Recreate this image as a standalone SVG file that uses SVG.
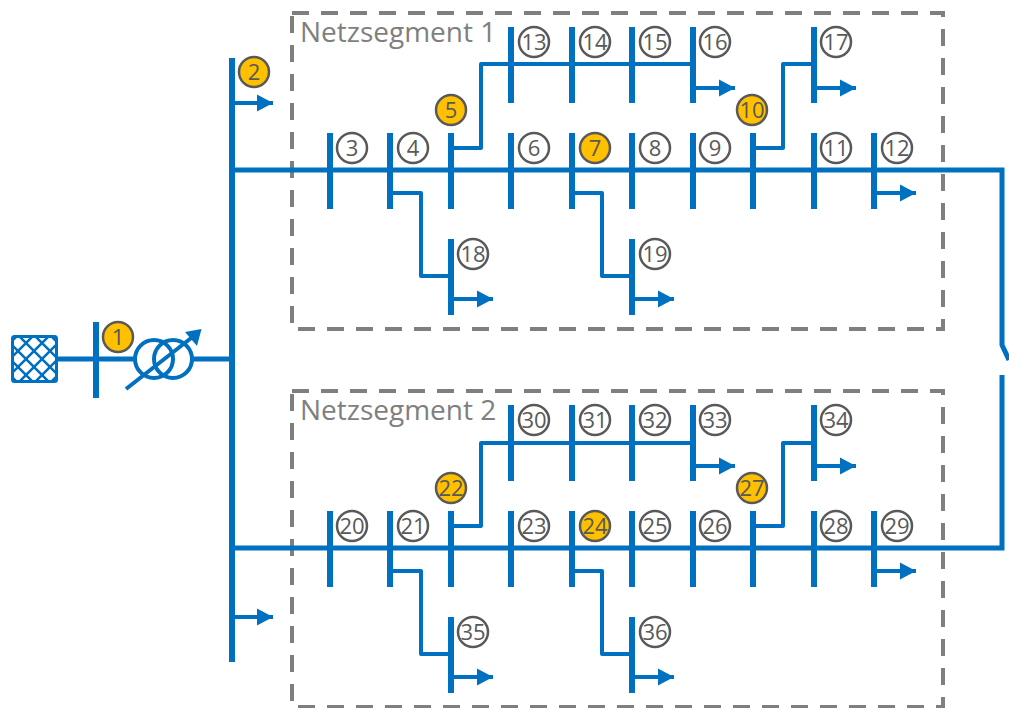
<svg xmlns="http://www.w3.org/2000/svg" width="1009" height="708" viewBox="0 0 1009 708">
<style>
.bar{stroke:#0070c0;stroke-width:6;fill:none}
.ln{stroke:#0070c0;stroke-width:4;fill:none;stroke-linejoin:round}
.main{stroke:#0070c0;stroke-width:5;fill:none}
.load{stroke:#0070c0;stroke-width:4;fill:none;marker-end:url(#ah)}
.seg{fill:none;stroke:#7f7f7f;stroke-width:4;stroke-dasharray:17 12}
.segt{font:28px "Open Sans",sans-serif;fill:#7f7f7f}
.b circle{stroke:#595959;stroke-width:2.5;fill:#fff}
.b.o circle{fill:#ffc000}
.b text{font:22px "Open Sans",sans-serif;fill:#595959;text-anchor:middle}
</style>
<defs>
<marker id="ah" markerUnits="userSpaceOnUse" markerWidth="18" markerHeight="20" refX="16" refY="10" orient="auto"><path d="M0 1.5L16 10L0 18.5Z" fill="#0070c0"/></marker>
<clipPath id="gc"><rect x="11" y="335" width="47" height="48" rx="2"/></clipPath>
</defs>
<g id="segment1"><rect class="seg" x="292" y="13" width="651" height="316"/><text class="segt" x="300" y="42">Netzsegment 1</text></g>
<g id="segment2"><rect class="seg" x="292" y="391" width="651" height="316"/><text class="segt" x="300" y="420">Netzsegment 2</text></g>
<g id="connectors">
<path class="main" d="M56 359H135M192 359H232"/>
<path class="main" d="M232 170H1002V345L1009 360M1002 375V548H232"/>
<path class="ln" d="M451 148H481V64H693M753 148H783V64H814M390 193H421V276H451M572 193H602V276H632"/>
<path class="ln" d="M451 526H481V443H693M753 526H783V443H814M390 571H421V654H451M572 571H602V654H632"/>
<path class="load" d="M232 103H273"/><path class="load" d="M232 617H273"/>
<path class="load" d="M693 88H735"/><path class="load" d="M814 88H856"/><path class="load" d="M874 193H916"/><path class="load" d="M451 299H493"/><path class="load" d="M632 299H674"/>
<path class="load" d="M693 466H735"/><path class="load" d="M814 466H856"/><path class="load" d="M874 571H916"/><path class="load" d="M451 677H493"/><path class="load" d="M632 677H674"/>
</g>
<g id="grid"><rect x="12.5" y="336.5" width="44" height="45" rx="2" fill="#fff" stroke="#0070c0" stroke-width="3"/><path clip-path="url(#gc)" stroke="#0070c0" stroke-width="2.5" fill="none" d="M0 353L70 283M0 369L70 299M0 385L70 315M0 401L70 331M0 417L70 347M0 433L70 363M0 365L70 435M0 349L70 419M0 333L70 403M0 317L70 387M0 301L70 371M0 285L70 355"/></g>
<g id="transformer"><circle class="ln" cx="154" cy="359" r="19"/><circle class="ln" cx="173" cy="359" r="19"/><path class="ln" d="M126 389L195 335"/><path d="M201.5 329L185 332L197 346Z" fill="#0070c0"/></g>
<g id="n1" class="b o"><path class="bar" d="M96 322V398"/><circle cx="118" cy="337" r="15"/><text x="118" y="345">1</text></g>
<g id="n2" class="b o"><path class="bar" d="M232 58V662"/><circle cx="254" cy="72" r="15"/><text x="254" y="80">2</text></g>
<g id="n3" class="b"><path class="bar" d="M330 133V209"/><circle cx="352" cy="148" r="15"/><text x="352" y="156">3</text></g>
<g id="n4" class="b"><path class="bar" d="M390 133V209"/><circle cx="413" cy="148" r="15"/><text x="413" y="156">4</text></g>
<g id="n5" class="b o"><path class="bar" d="M451 133V209"/><circle cx="451" cy="110" r="15"/><text x="451" y="118">5</text></g>
<g id="n6" class="b"><path class="bar" d="M511 133V209"/><circle cx="534" cy="148" r="15"/><text x="534" y="156">6</text></g>
<g id="n7" class="b o"><path class="bar" d="M572 133V209"/><circle cx="595" cy="148" r="15"/><text x="595" y="156">7</text></g>
<g id="n8" class="b"><path class="bar" d="M632 133V209"/><circle cx="655" cy="148" r="15"/><text x="655" y="156">8</text></g>
<g id="n9" class="b"><path class="bar" d="M693 133V209"/><circle cx="715" cy="148" r="15"/><text x="715" y="156">9</text></g>
<g id="n10" class="b o"><path class="bar" d="M753 133V209"/><circle cx="752" cy="110" r="15"/><text x="752" y="118">10</text></g>
<g id="n11" class="b"><path class="bar" d="M814 133V209"/><circle cx="836" cy="148" r="15"/><text x="836" y="156">11</text></g>
<g id="n12" class="b"><path class="bar" d="M874 133V209"/><circle cx="897" cy="148" r="15"/><text x="897" y="156">12</text></g>
<g id="n13" class="b"><path class="bar" d="M511 27V103"/><circle cx="534" cy="42" r="15"/><text x="534" y="50">13</text></g>
<g id="n14" class="b"><path class="bar" d="M572 27V103"/><circle cx="595" cy="42" r="15"/><text x="595" y="50">14</text></g>
<g id="n15" class="b"><path class="bar" d="M632 27V103"/><circle cx="655" cy="42" r="15"/><text x="655" y="50">15</text></g>
<g id="n16" class="b"><path class="bar" d="M693 27V103"/><circle cx="715" cy="42" r="15"/><text x="715" y="50">16</text></g>
<g id="n17" class="b"><path class="bar" d="M814 27V103"/><circle cx="836" cy="42" r="15"/><text x="836" y="50">17</text></g>
<g id="n18" class="b"><path class="bar" d="M451 239V315"/><circle cx="473" cy="254" r="15"/><text x="473" y="262">18</text></g>
<g id="n19" class="b"><path class="bar" d="M632 239V315"/><circle cx="655" cy="254" r="15"/><text x="655" y="262">19</text></g>
<g id="n20" class="b"><path class="bar" d="M330 511V587"/><circle cx="352" cy="526" r="15"/><text x="352" y="534">20</text></g>
<g id="n21" class="b"><path class="bar" d="M390 511V587"/><circle cx="413" cy="526" r="15"/><text x="413" y="534">21</text></g>
<g id="n22" class="b o"><path class="bar" d="M451 511V587"/><circle cx="451" cy="488" r="15"/><text x="451" y="496">22</text></g>
<g id="n23" class="b"><path class="bar" d="M511 511V587"/><circle cx="534" cy="526" r="15"/><text x="534" y="534">23</text></g>
<g id="n24" class="b o"><path class="bar" d="M572 511V587"/><circle cx="595" cy="526" r="15"/><text x="595" y="534">24</text></g>
<g id="n25" class="b"><path class="bar" d="M632 511V587"/><circle cx="655" cy="526" r="15"/><text x="655" y="534">25</text></g>
<g id="n26" class="b"><path class="bar" d="M693 511V587"/><circle cx="715" cy="526" r="15"/><text x="715" y="534">26</text></g>
<g id="n27" class="b o"><path class="bar" d="M753 511V587"/><circle cx="752" cy="488" r="15"/><text x="752" y="496">27</text></g>
<g id="n28" class="b"><path class="bar" d="M814 511V587"/><circle cx="836" cy="526" r="15"/><text x="836" y="534">28</text></g>
<g id="n29" class="b"><path class="bar" d="M874 511V587"/><circle cx="897" cy="526" r="15"/><text x="897" y="534">29</text></g>
<g id="n30" class="b"><path class="bar" d="M511 405V481"/><circle cx="534" cy="420" r="15"/><text x="534" y="428">30</text></g>
<g id="n31" class="b"><path class="bar" d="M572 405V481"/><circle cx="595" cy="420" r="15"/><text x="595" y="428">31</text></g>
<g id="n32" class="b"><path class="bar" d="M632 405V481"/><circle cx="655" cy="420" r="15"/><text x="655" y="428">32</text></g>
<g id="n33" class="b"><path class="bar" d="M693 405V481"/><circle cx="715" cy="420" r="15"/><text x="715" y="428">33</text></g>
<g id="n34" class="b"><path class="bar" d="M814 405V481"/><circle cx="836" cy="420" r="15"/><text x="836" y="428">34</text></g>
<g id="n35" class="b"><path class="bar" d="M451 617V693"/><circle cx="473" cy="632" r="15"/><text x="473" y="640">35</text></g>
<g id="n36" class="b"><path class="bar" d="M632 617V693"/><circle cx="655" cy="632" r="15"/><text x="655" y="640">36</text></g>
</svg>
